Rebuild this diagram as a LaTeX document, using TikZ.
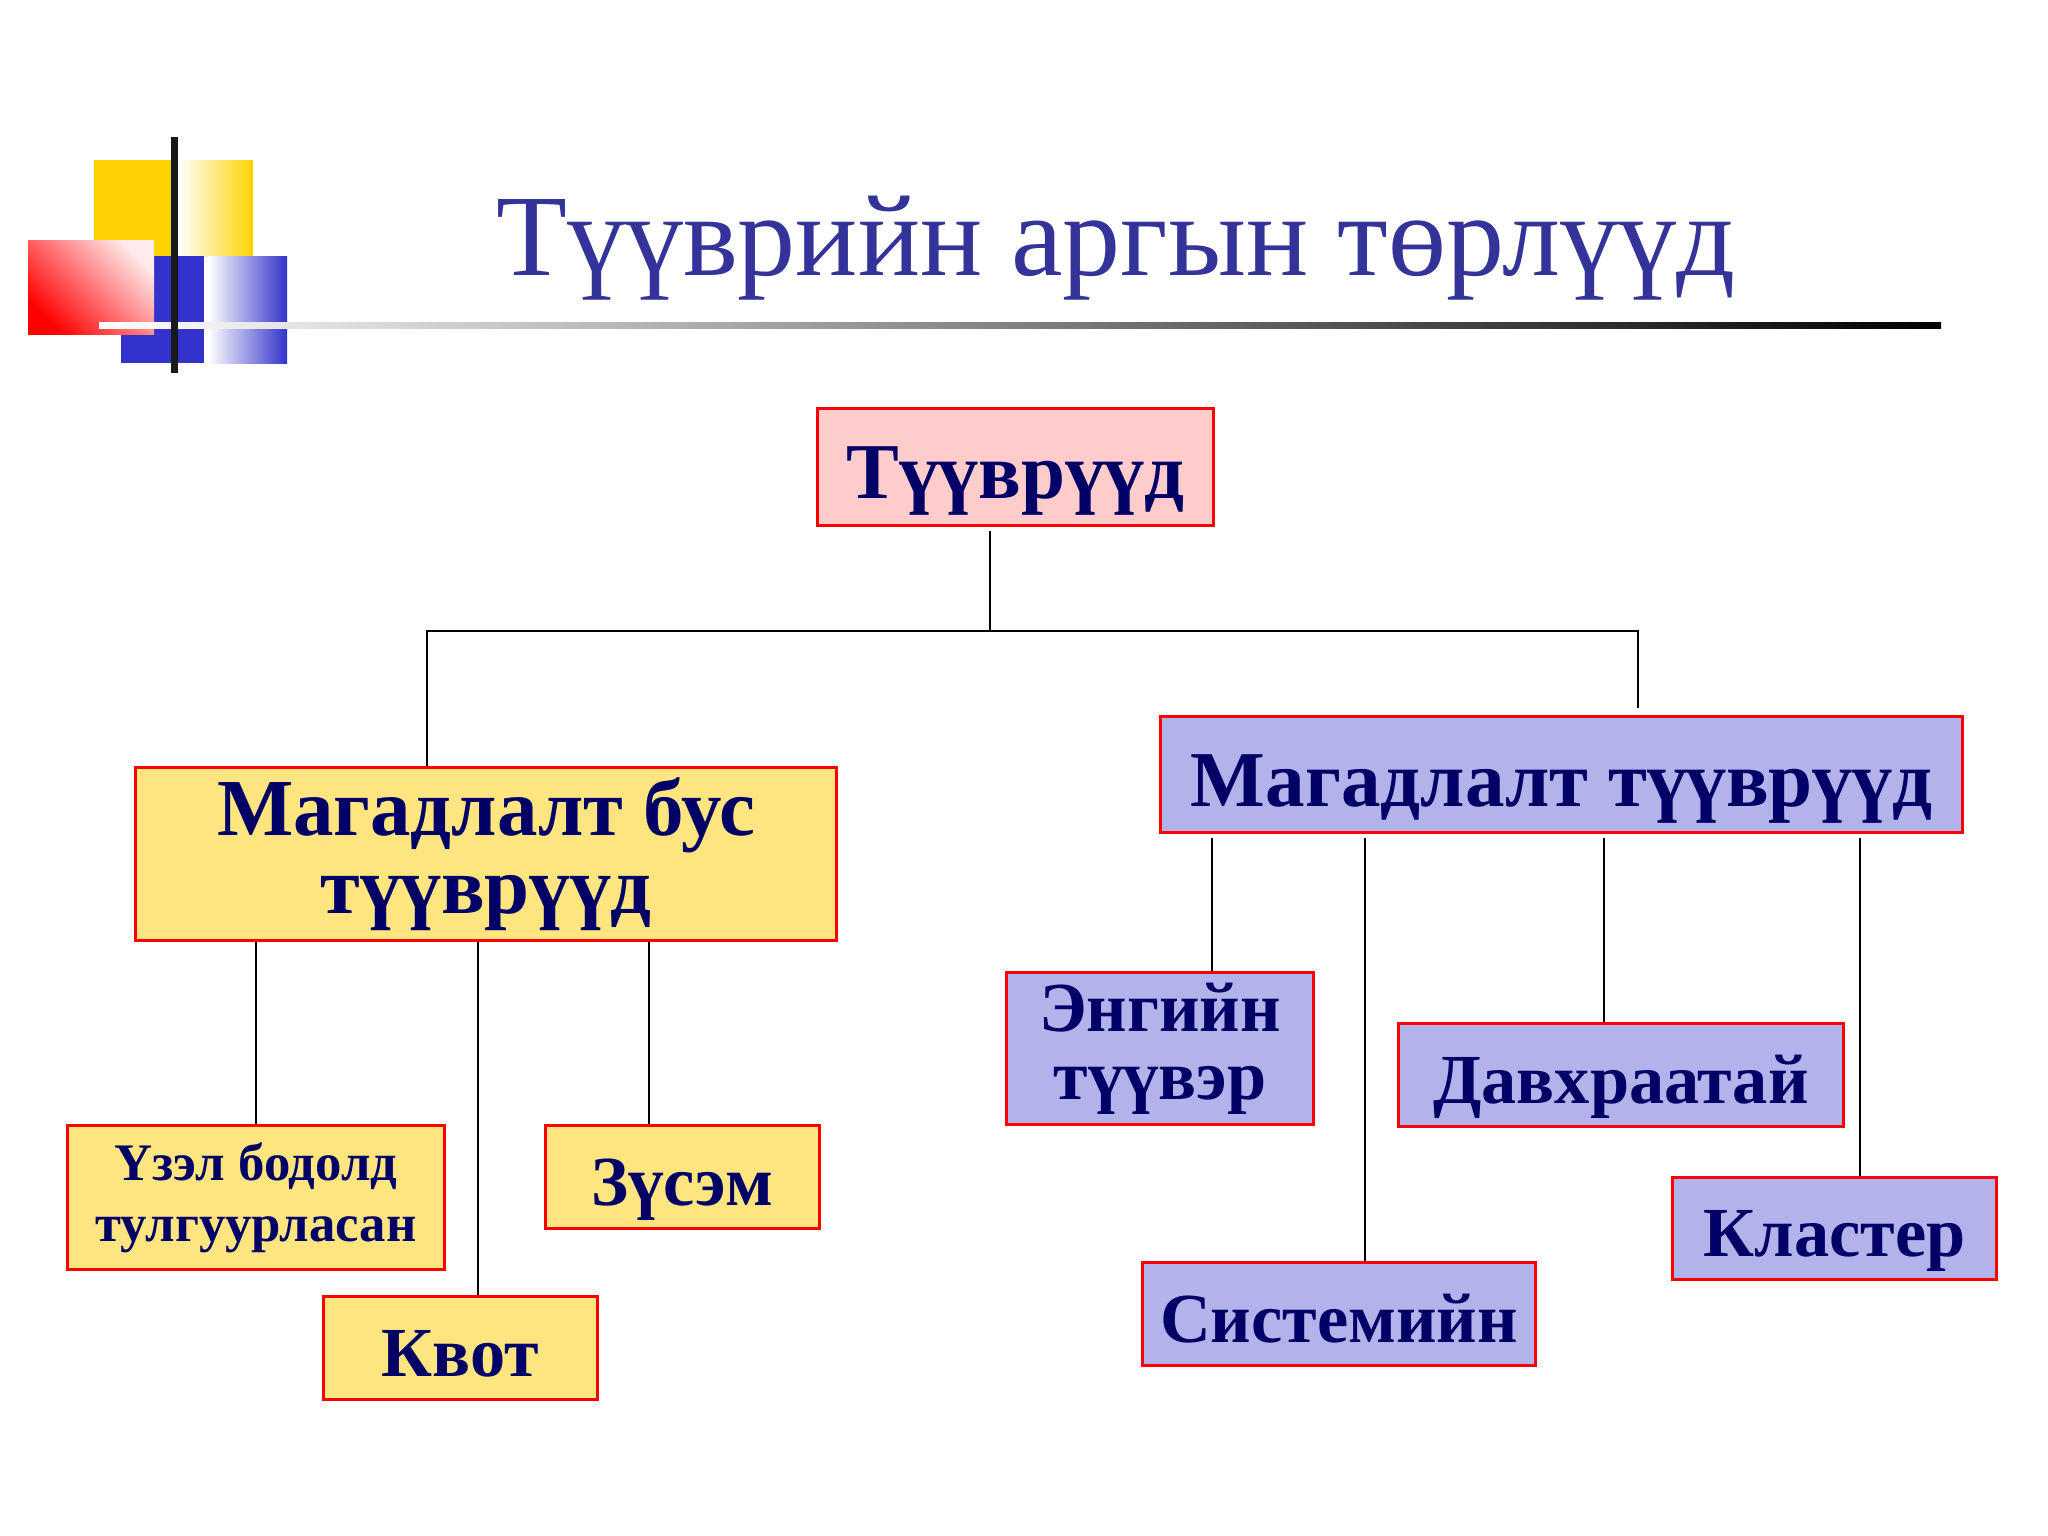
\documentclass[tikz,border=0pt]{standalone}
\usepackage{fontspec}
\setmainfont{Liberation Serif}
\usepackage{xcolor}
\usepackage{tikz}
\usetikzlibrary{positioning}

\definecolor{boxred}{HTML}{FF0000}
\definecolor{boxpink}{HTML}{FFCCCC}
\definecolor{boxyellow}{HTML}{FFE57F}
\definecolor{boxblue}{HTML}{B3B3EB}
\definecolor{navy}{HTML}{000066}
\definecolor{titleblue}{HTML}{333399}
\definecolor{logoyellow}{HTML}{FFD200}
\definecolor{logoblue}{HTML}{3333CC}

\begin{document}
\begin{tikzpicture}[x=0.01cm,y=-0.01cm,
   box/.style={draw=boxred,line width=0.85pt,inner sep=0pt,align=center,text=navy},
   pinkbox/.style={box,fill=boxpink},
   yelbox/.style={box,fill=boxyellow},
   bluebox/.style={box,fill=boxblue},
   bigtxt/.style={font=\fontsize{23}{22}\selectfont\bfseries},
   bigone/.style={font=\fontsize{22.5}{22}\selectfont\bfseries,text height=18pt,text depth=0pt},
   midtxt/.style={font=\fontsize{20}{19.3}\selectfont\bfseries},
   midone/.style={midtxt,text height=16pt,text depth=0pt},
   smalltxt/.style={font=\fontsize{15}{17.4}\selectfont\bfseries},
   link/.style={line width=0.6pt}]
   \useasboundingbox (0,0) rectangle (2048,1536);
   % logo
   \fill[logoyellow] (94,160) rectangle (178,256);
   \shade[left color=white,right color=logoyellow] (178,160) rectangle (253,256);
   \fill[logoblue] (121,256) rectangle (204,363);
   \shade[left color=white,right color=logoblue] (208,256) rectangle (287,363);
   \shade[bottom color=red,top color=red!8,shading angle=-45] (28,240) rectangle (154,334);
   \shade[left color=white,right color=black] (99,322) rectangle (1941,328);
   \fill[black!90] (171,137) rectangle (178,373);
   % title
   \node[anchor=base,text=titleblue,font=\fontsize{33}{36}\selectfont] (title) at (1116,275) {Түүврийн аргын төрлүүд};

   \node[pinkbox,bigone,minimum width=3.95cm,minimum height=1.16cm] (root) at (1015.5,467) {Түүврүүд};
   \node[yelbox,bigtxt,minimum width=7cm,minimum height=1.72cm] (nonprob) at (486,854) {Магадлалт бус\\түүврүүд};
   \node[bluebox,bigone,minimum width=8.02cm,minimum height=1.15cm] (prob) at (1561.5,774.5) {Магадлалт түүврүүд};

   \node[yelbox,smalltxt,minimum width=3.77cm,minimum height=1.43cm] (opinion) at (256,1197.5) {Үзэл бодолд\\тулгуурласан};
   \node[yelbox,midone,minimum width=2.73cm,minimum height=1.02cm] (quota) at (460.5,1348) {Квот};
   \node[yelbox,midone,minimum width=2.73cm,minimum height=1.02cm] (slice) at (682.5,1177) {Зүсэм};

   \node[bluebox,midtxt,minimum width=3.07cm,minimum height=1.51cm] (simple) at (1160,1048.5) {Энгийн\\түүвэр};
   \node[bluebox,midone,minimum width=4.44cm,minimum height=1.02cm] (strat) at (1621,1075) {Давхраатай};
   \node[bluebox,midone,minimum width=3.92cm,minimum height=1.02cm] (syst) at (1339,1314) {Системийн};
   \node[bluebox,midone,minimum width=3.24cm,minimum height=1.02cm] (cluster) at (1834.5,1228.5) {Кластер};

   \coordinate (busL) at (427,631);
   \coordinate (busM) at (990,631);
   \coordinate (busR) at (1638,631);
   \draw[link,shorten <=1.2pt] (root.south -| busM) -- (busM);
   \draw[link,shorten >=2pt] (nonprob.north -| busL) -- (busL) -- (busR) -- (prob.north -| busR);

   \draw[link] (nonprob.south -| opinion.north) -- (opinion.north);
   \draw[link] (nonprob.south -| 478,0) -- (quota.north -| 478,0);
   \draw[link] (nonprob.south -| 649,0) -- (slice.north -| 649,0);

   \draw[link,shorten <=1.2pt] (prob.south -| 1212,0) -- (simple.north -| 1212,0);
   \draw[link,shorten <=1.2pt] (prob.south -| 1365,0) -- (syst.north -| 1365,0);
   \draw[link,shorten <=1.2pt] (prob.south -| 1604,0) -- (strat.north -| 1604,0);
   \draw[link,shorten <=1.2pt] (prob.south -| 1860,0) -- (cluster.north -| 1860,0);
\end{tikzpicture}
\end{document}
